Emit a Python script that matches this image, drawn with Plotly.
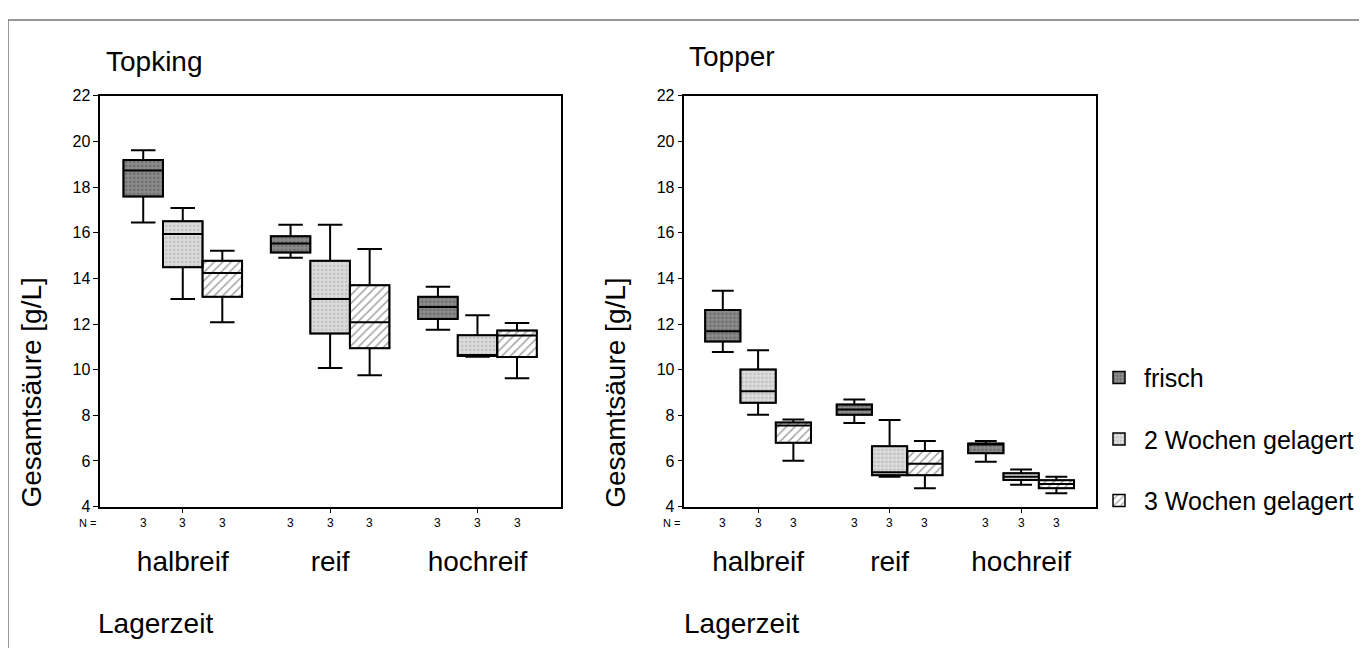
import plotly.graph_objects as go

categories = ["halbreif", "reif", "hochreif"]
series_names = ["frisch", "2 Wochen gelagert", "3 Wochen gelagert"]
n_counts = [3, 3, 3]

# Topking: per storage series, values per ripeness category
topking_lower  = [[16.45, 14.91, 11.75], [13.10, 10.07, 10.57], [12.08, 9.76, 9.62]]
topking_q1     = [[17.59, 15.14, 12.22], [14.49, 11.58, 10.60], [13.20, 10.94, 10.56]]
topking_median = [[18.73, 15.53, 12.75], [15.95, 13.10, 10.63], [14.24, 12.08, 11.50]]
topking_q3     = [[19.19, 15.85, 13.20], [16.50, 14.77, 11.51], [14.77, 13.70, 11.72]]
topking_upper  = [[19.62, 16.35, 13.63], [17.08, 16.35, 12.39], [15.21, 15.29, 12.04]]

# Topper
topper_lower  = [[10.78, 7.66, 5.97], [8.03, 5.31, 4.96], [6.01, 4.80, 4.59]]
topper_q1     = [[11.23, 8.02, 6.34], [8.55, 5.37, 5.17], [6.80, 5.37, 4.80]]
topper_median = [[11.68, 8.26, 6.74], [9.05, 5.51, 5.31], [7.55, 5.88, 4.99]]
topper_q3     = [[12.61, 8.47, 6.77], [10.01, 6.65, 5.46], [7.69, 6.44, 5.16]]
topper_upper  = [[13.46, 8.69, 6.88], [10.85, 7.80, 5.63], [7.82, 6.87, 5.31]]

y_ticks = [4, 6, 8, 10, 12, 14, 16, 18, 20, 22]
y_title = "Gesamtsäure [g/L]"

FONT = "Liberation Sans, Arial, sans-serif"
# page body has an 8px default margin; the figure fills the rest of the 1367x656 window
OFF = 8
W, H = 1367 - 2 * OFF, 656 - 2 * OFF


def px(x):
    return (x - OFF) / W


def py(y):
    return 1 - (y - OFF) / H


GAP = 0.195
bw = (1 - GAP) / 3
cat_idx = list(range(len(categories)))

fill_styles = [
    dict(color="#8c8c8c", pattern=dict(shape=".", fgcolor="#4a4a4a", bgcolor="#8c8c8c", size=4, solidity=0.35)),
    dict(color="#dcdcdc", pattern=dict(shape=".", fgcolor="#a0a0a0", bgcolor="#dcdcdc", size=4, solidity=0.3)),
    dict(color="#ffffff", pattern=dict(shape="/", fgcolor="#444444", bgcolor="#ffffff", size=6, solidity=0.25)),
]

fig = go.Figure()

panels = [
    ("x", "y", topking_lower, topking_q1, topking_median, topking_q3, topking_upper, True),
    ("x2", "y2", topper_lower, topper_q1, topper_median, topper_q3, topper_upper, False),
]

for xa, ya, lo, q1, med, q3, up, show in panels:
    for k, name in enumerate(series_names):
        xs = [i + (k - 1) * bw for i in cat_idx]
        fig.add_trace(go.Bar(
            x=xs, y=[b - a for a, b in zip(q1[k], q3[k])], base=q1[k], width=bw,
            name=name, legendgroup=name, showlegend=show,
            marker=dict(color=fill_styles[k]["color"], pattern=fill_styles[k]["pattern"],
                        line=dict(color="black", width=1.5)),
            xaxis=xa, yaxis=ya, hoverinfo="skip",
        ))
    for k, name in enumerate(series_names):
        xs = [i + (k - 1) * bw for i in cat_idx]
        fig.add_trace(go.Box(
            x=xs, q1=q1[k], median=med[k], q3=q3[k],
            lowerfence=lo[k], upperfence=up[k], width=bw,
            name=name, legendgroup=name, showlegend=False,
            fillcolor="rgba(0,0,0,0)", line=dict(color="black", width=2),
            whiskerwidth=0.62, xaxis=xa, yaxis=ya, boxpoints=False,
        ))

ax_common = dict(
    showline=True, linecolor="black", linewidth=1.5, mirror=True,
    showgrid=False, zeroline=False, ticks="outside", ticklen=5, tickwidth=1,
    tickcolor="black",
)

xcommon = dict(ax_common, range=[-0.56, 2.57], tickvals=cat_idx, ticktext=categories,
               tickfont=dict(size=28, family=FONT, color="black"),
               ticklabelstandoff=24)
ycommon = dict(ax_common, range=[4, 22], tickvals=y_ticks,
               tickfont=dict(size=16, family=FONT, color="black"))

ybot, ytop = py(512), py(90)
fig.update_layout(
    xaxis=dict(xcommon, domain=[px(101), px(566)], anchor="y"),
    yaxis=dict(ycommon, domain=[ybot, ytop], anchor="x"),
    xaxis2=dict(xcommon, domain=[px(690), px(1105)], anchor="y2"),
    yaxis2=dict(ycommon, domain=[ybot, ytop], anchor="x2"),
    barmode="overlay", boxmode="overlay",
    width=W, height=H, margin=dict(l=0, r=0, t=0, b=0),
    paper_bgcolor="white", plot_bgcolor="white",
    font=dict(family=FONT, color="black"),
    legend=dict(x=px(1103), y=py(356), xanchor="left", yanchor="top",
                font=dict(size=25, family=FONT, color="black"),
                tracegroupgap=26, itemwidth=40, bgcolor="rgba(0,0,0,0)"),
    showlegend=True,
)

annotations = []
for title, tx, ty in [("Topking", 105, 55), ("Topper", 693, 50)]:
    annotations.append(dict(text=title, xref="paper", yref="paper", x=px(tx), y=py(ty),
                            xanchor="left", yanchor="middle", showarrow=False,
                            font=dict(size=28, family=FONT, color="black")))
for lx in (97, 688):
    annotations.append(dict(text="Lagerzeit", xref="paper", yref="paper", x=px(lx), y=py(632),
                            xanchor="left", yanchor="middle", showarrow=False,
                            font=dict(size=28, family=FONT, color="black")))
for tx in (32, 621):
    annotations.append(dict(text=y_title, xref="paper", yref="paper", x=px(tx), y=py(395),
                            xanchor="center", yanchor="middle", textangle=-90, showarrow=False,
                            font=dict(size=28, family=FONT, color="black")))
for xa in ("x", "x2"):
    annotations.append(dict(text="N =", xref=xa + " domain", yref="paper", x=-0.005, y=py(529),
                            xanchor="right", yanchor="middle", showarrow=False,
                            font=dict(size=11, family=FONT, color="black")))
    for i in cat_idx:
        for k in range(3):
            annotations.append(dict(text=str(n_counts[k]), xref=xa, yref="paper",
                                    x=i + (k - 1) * bw, y=py(529), xanchor="center",
                                    yanchor="middle", showarrow=False,
                                    font=dict(size=12, family=FONT, color="black")))
fig.update_layout(annotations=annotations)

fig.add_shape(type="rect", xref="paper", yref="paper", x0=px(8), x1=1.05, y0=-0.05, y1=py(12),
              line=dict(color="#777777", width=1.5), fillcolor="rgba(0,0,0,0)", layer="below")

fig.write_html("out.html")
